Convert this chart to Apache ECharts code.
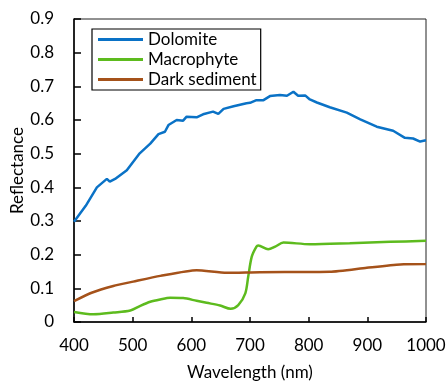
<!DOCTYPE html>
<html>
<head>
<meta charset="utf-8">
<script src="https://cdn.jsdelivr.net/npm/echarts@6/dist/echarts.min.js"></script>
<style>
html,body{margin:0;padding:0;background:#fff;}
#chart{width:447px;height:381px;}
</style>
</head>
<body>
<div id="chart"></div>
<script>
// Reflectance spectra: [wavelength (nm), reflectance]
const dolomite = [
  [400,0.298],[420,0.345],[439,0.400],[456,0.425],[461,0.417],[470,0.425],[490,0.451],
  [512,0.501],[530,0.530],[544,0.558],[555,0.565],[561,0.585],[575,0.600],[586,0.598],
  [592,0.610],[609,0.608],[620,0.617],[637,0.625],[646,0.618],[655,0.633],[672,0.641],
  [694,0.650],[700,0.651],[711,0.659],[723,0.659],[734,0.671],[751,0.674],[763,0.672],
  [774,0.684],[782,0.672],[794,0.673],[802,0.661],[814,0.652],[836,0.638],[865,0.622],
  [888,0.602],[916,0.580],[944,0.568],[964,0.547],[978,0.545],[990,0.536],[1000,0.540]
];
const macrophyte = [
  [400,0.030],[433,0.023],[467,0.028],[496,0.034],[513,0.048],[530,0.060],[547,0.067],
  [564,0.072],[586,0.071],[609,0.063],[626,0.057],[649,0.049],[667,0.039],[680,0.050],
  [692,0.085],[697,0.135],[703,0.194],[711,0.224],[714,0.227],[731,0.216],[743,0.224],
  [757,0.236],[802,0.231],[870,0.234],[939,0.238],[1000,0.241]
];
const darkSediment = [
  [400,0.062],[430,0.087],[467,0.107],[501,0.120],[547,0.137],[609,0.154],[660,0.146],
  [717,0.148],[836,0.149],[899,0.161],[956,0.171],[1000,0.172]
];
const seriesNames = ['Dolomite','Macrophyte','Dark sediment'];
const seriesColors = ['#0A72C6','#5DBB1E','#A5521A'];

const font = 'Lato, "Open Sans", sans-serif';
const chart = echarts.init(document.getElementById('chart'));
chart.setOption({
  animation: false,
  grid: {left: 74, right: 21, top: 19, bottom: 59, outerBoundsMode: 'none',
         show: true, borderColor: '#222', borderWidth: 1},
  legend: {
    left: 92, top: 29,
    orient: 'vertical',
    itemWidth: 45, itemHeight: 3, itemGap: 3,
    padding: [2, 4, 2, 6],
    borderColor: '#000', borderWidth: 1.2,
    icon: 'rect',
    textStyle: {fontFamily: font, fontSize: 17, color: '#000'},
    data: seriesNames
  },
  xAxis: {
    type: 'value', min: 400, max: 1000, interval: 100,
    name: 'Wavelength (nm)', nameLocation: 'middle', nameGap: 42,
    nameTextStyle: {fontFamily: font, fontSize: 17, color: '#000'},
    axisLine: {lineStyle: {color: '#000', width: 1.5}},
    axisTick: {inside: true, length: 5, lineStyle: {color: '#000', width: 1.5}},
    axisLabel: {fontFamily: font, fontSize: 17, color: '#000', margin: 15,
      formatter: v => String(v)},
    splitLine: {show: false}
  },
  yAxis: {
    type: 'value', min: 0, max: 0.9, interval: 0.1,
    name: 'Reflectance', nameLocation: 'middle', nameGap: 48, nameMoveOverlap: false,
    nameTextStyle: {fontFamily: font, fontSize: 17, color: '#000'},
    axisLine: {show: true, lineStyle: {color: '#000', width: 1.5}},
    axisTick: {show: true, inside: true, length: 7, lineStyle: {color: '#000', width: 1.5}},
    axisLabel: {fontFamily: font, fontSize: 17, color: '#000', margin: 20,
      formatter: v => (v === 0 ? '0' : v.toFixed(1))},
    splitLine: {show: false}
  },
  series: [
    {name: seriesNames[0], type: 'line', data: dolomite, showSymbol: false,
     lineStyle: {width: 2.5, color: seriesColors[0]}, itemStyle: {color: seriesColors[0]}},
    {name: seriesNames[1], type: 'line', data: macrophyte, showSymbol: false, smooth: 0.3,
     lineStyle: {width: 2.5, color: seriesColors[1]}, itemStyle: {color: seriesColors[1]}},
    {name: seriesNames[2], type: 'line', data: darkSediment, showSymbol: false, smooth: 0.2,
     lineStyle: {width: 2.5, color: seriesColors[2]}, itemStyle: {color: seriesColors[2]}}
  ]
});
</script>
</body>
</html>
